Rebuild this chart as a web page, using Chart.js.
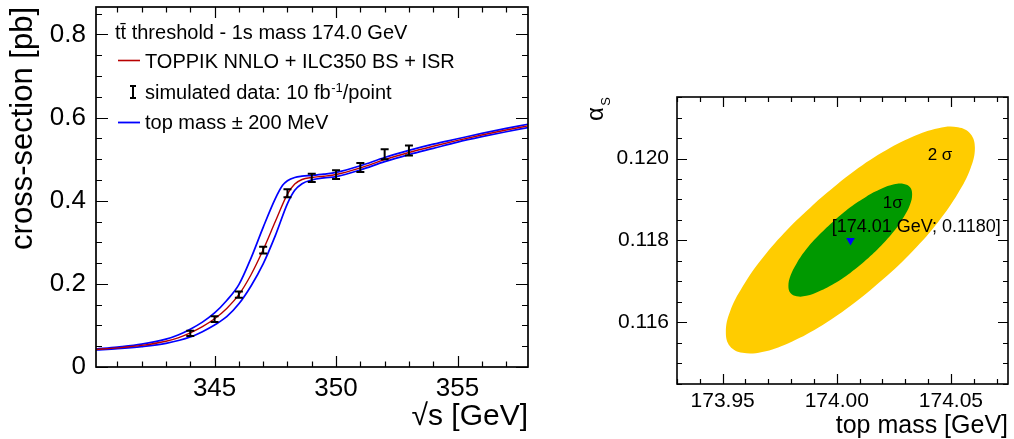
<!DOCTYPE html>
<html>
<head>
<meta charset="utf-8">
<script src="https://cdn.jsdelivr.net/npm/chart.js@4.4.1/dist/chart.umd.min.js"></script>
<style>
html,body{margin:0;padding:0;background:#fff;width:1014px;height:439px;overflow:hidden;}
#c1{position:absolute;left:0;top:0;}
#c2{position:absolute;left:560px;top:0;}
</style>
</head>
<body>
<canvas id="c1" width="540" height="439"></canvas>
<canvas id="c2" width="454" height="439"></canvas>
<script>
// ---------------- left panel: ttbar threshold scan ----------------
const xTickValuesL = [345, 350, 355];
const xTickLabelsL = ['345', '350', '355'];
const yTickValuesL = [0, 0.2, 0.4, 0.6, 0.8];
const yTickLabelsL = ['0', '0.2', '0.4', '0.6', '0.8'];

// nominal prediction (TOPPIK NNLO + ILC350 BS + ISR)
const nominalX = [340.1, 341, 342, 343, 343.5, 344, 344.5, 345, 345.5, 346, 346.5, 347, 347.5, 348, 348.3, 348.6, 349, 349.5, 350, 351, 352, 353, 354, 355, 356, 357, 357.9];
const nominalY = [0.042, 0.046, 0.052, 0.062, 0.070, 0.082, 0.097, 0.116, 0.141, 0.174, 0.222, 0.282, 0.350, 0.416, 0.440, 0.451, 0.456, 0.459, 0.463, 0.479, 0.499, 0.516, 0.531, 0.545, 0.558, 0.570, 0.580];

// top mass - 200 MeV
const lowMassX = [340.1, 341, 342, 343, 343.5, 344, 344.5, 345, 345.5, 346, 346.5, 347, 347.5, 347.8, 348, 348.3, 348.6, 349, 349.5, 350, 351, 352, 353, 354, 355, 356, 357, 357.9];
const lowMassY = [0.043, 0.048, 0.055, 0.067, 0.077, 0.091, 0.108, 0.130, 0.160, 0.198, 0.262, 0.336, 0.405, 0.437, 0.448, 0.456, 0.459, 0.461, 0.464, 0.468, 0.484, 0.504, 0.521, 0.536, 0.549, 0.562, 0.574, 0.584];

// top mass + 200 MeV
const highMassX = [340.1, 341, 342, 343, 344, 344.5, 345, 345.5, 346, 346.5, 347, 347.5, 348, 348.3, 348.6, 349, 349.5, 350, 351, 352, 353, 354, 355, 356, 357, 357.9];
const highMassY = [0.041, 0.044, 0.049, 0.057, 0.072, 0.085, 0.101, 0.121, 0.152, 0.195, 0.248, 0.316, 0.393, 0.425, 0.441, 0.450, 0.455, 0.458, 0.474, 0.494, 0.511, 0.526, 0.541, 0.554, 0.566, 0.576];

// simulated data, 10 fb^-1 per point
const pointsX = [344, 345, 346, 347, 348, 349, 350, 351, 352, 353];
const pointsY = [0.081, 0.115, 0.174, 0.281, 0.418, 0.455, 0.463, 0.480, 0.512, 0.521];
const pointsErr = [0.0065, 0.007, 0.0075, 0.008, 0.0095, 0.010, 0.0105, 0.011, 0.012, 0.012];

// ---------------- right panel: mass / alpha_s fit ----------------
const xTickValuesR = [173.95, 174.00, 174.05];
const xTickLabelsR = ['173.95', '174.00', '174.05'];
const yTickValuesR = [0.116, 0.118, 0.120];
const yTickLabelsR = ['0.116', '0.118', '0.120'];

// 2 sigma contour
const contour2X = [173.9918, 173.9786, 173.9673, 173.9587, 173.9532, 173.9514, 173.9532, 173.9587, 173.9673, 173.9786, 173.9918, 174.0059, 174.0200, 174.0332, 174.0445, 174.0531, 174.0586, 174.0605, 174.0586, 174.0531, 174.0445, 174.0332, 174.0200, 174.0059, 173.9918];
const contour2Y = [0.11898, 0.11828, 0.11756, 0.11687, 0.11626, 0.11576, 0.11542, 0.11526, 0.11528, 0.11549, 0.11587, 0.11640, 0.11704, 0.11774, 0.11846, 0.11915, 0.11976, 0.12026, 0.12060, 0.12076, 0.12074, 0.12053, 0.12015, 0.11962, 0.11898];
// 1 sigma contour
const contour1X = [173.9989, 173.9923, 173.9867, 173.9824, 173.9797, 173.9788, 173.9797, 173.9824, 173.9867, 173.9923, 173.9989, 174.0059, 174.0129, 174.0195, 174.0251, 174.0294, 174.0321, 174.0330, 174.0321, 174.0294, 174.0251, 174.0195, 174.0129, 174.0059, 173.9989];
const contour1Y = [0.11849, 0.11814, 0.11779, 0.11744, 0.11714, 0.11689, 0.11672, 0.11664, 0.11665, 0.11676, 0.11695, 0.11721, 0.11753, 0.11788, 0.11823, 0.11858, 0.11888, 0.11913, 0.11930, 0.11938, 0.11937, 0.11926, 0.11907, 0.11881, 0.11849];
// best fit
const fitX = [174.006];
const fitY = [0.1180];
const fitLabel = '[174.01 GeV; 0.1180]';

// ------------------------------------------------------------------
const FONT = "'Liberation Sans', Arial, Helvetica, sans-serif";
Chart.defaults.font.family = FONT;
Chart.defaults.color = '#000';

const pts = (xs, ys) => xs.map((x, i) => ({x: x, y: ys[i]}));

function stepsOf(min, max, st) {
  const out = [];
  for (let k = Math.ceil(min / st - 1e-9); k * st <= max + 1e-12; k++) out.push(k * st);
  return out;
}
function isMajor(v, m) { const r = v / m; return Math.abs(r - Math.round(r)) < 1e-6; }

function framePlugin(o) {
  return {
    id: 'frame',
    afterDatasetsDraw(chart) {
      const {ctx, chartArea: a, scales: {x, y}} = chart;
      ctx.save();
      ctx.strokeStyle = '#000';
      ctx.lineWidth = o.tickLw;
      ctx.beginPath();
      for (const v of stepsOf(x.min, x.max, o.xMinor)) {
        const L = isMajor(v, o.xMajor) ? o.xMaj : o.xMin;
        const px = Math.round(x.getPixelForValue(v)) + 0.5;
        ctx.moveTo(px, a.bottom); ctx.lineTo(px, a.bottom - L);
        ctx.moveTo(px, a.top); ctx.lineTo(px, a.top + L);
      }
      for (const v of stepsOf(y.min, y.max, o.yMinor)) {
        const L = isMajor(v, o.yMajor) ? o.yMaj : o.yMin;
        const py = Math.round(y.getPixelForValue(v)) + 0.5;
        ctx.moveTo(a.left, py); ctx.lineTo(a.left + L, py);
        ctx.moveTo(a.right, py); ctx.lineTo(a.right - L, py);
      }
      ctx.stroke();
      ctx.lineWidth = o.frameLw;
      ctx.strokeRect(a.left, a.top, a.right - a.left, a.bottom - a.top);
      ctx.restore();
    }
  };
}

const RED = '#b80000';
const BLUE = '#0000ff';

// ---------------- left chart ----------------
const errorBarPlugin = {
  id: 'errbars',
  afterDatasetsDraw(chart) {
    const {ctx, scales: {y}} = chart;
    const meta = chart.getDatasetMeta(0);
    ctx.save();
    ctx.strokeStyle = '#000';
    ctx.lineWidth = 2;
    ctx.beginPath();
    meta.data.forEach((p, i) => {
      const yt = y.getPixelForValue(pointsY[i] + pointsErr[i]);
      const yb = y.getPixelForValue(pointsY[i] - pointsErr[i]);
      ctx.moveTo(p.x, yt); ctx.lineTo(p.x, yb);
      ctx.moveTo(p.x - 4, yt); ctx.lineTo(p.x + 4, yt);
      ctx.moveTo(p.x - 4, yb); ctx.lineTo(p.x + 4, yb);
    });
    ctx.stroke();
    ctx.restore();
  }
};

const legendLeftPlugin = {
  id: 'legendLeft',
  afterDraw(chart) {
    const ctx = chart.ctx;
    ctx.save();
    ctx.fillStyle = '#000';
    ctx.textAlign = 'left';
    ctx.textBaseline = 'alphabetic';
    ctx.font = '20px ' + FONT;
    ctx.fillText('tt\u0304 threshold - 1s mass 174.0 GeV', 115, 39);
    // nominal
    ctx.strokeStyle = RED; ctx.lineWidth = 1.6;
    ctx.beginPath(); ctx.moveTo(118, 60.5); ctx.lineTo(140, 60.5); ctx.stroke();
    ctx.fillText('TOPPIK NNLO + ILC350 BS + ISR', 145, 68);
    // data
    ctx.strokeStyle = '#000'; ctx.lineWidth = 2;
    ctx.beginPath();
    ctx.moveTo(133, 86); ctx.lineTo(133, 98);
    ctx.moveTo(130, 86); ctx.lineTo(136, 86);
    ctx.moveTo(130, 98); ctx.lineTo(136, 98);
    ctx.stroke();
    const t1 = 'simulated data: 10 fb';
    ctx.fillText(t1, 145, 99);
    let w = ctx.measureText(t1).width;
    ctx.font = '13px ' + FONT;
    ctx.fillText('-1', 145 + w + 0.5, 91.5);
    const w2 = ctx.measureText('-1').width;
    ctx.font = '20px ' + FONT;
    ctx.fillText('/point', 145 + w + w2 + 0.5, 99);
    // mass variation
    ctx.strokeStyle = BLUE; ctx.lineWidth = 1.8;
    ctx.beginPath(); ctx.moveTo(118, 122.5); ctx.lineTo(140, 122.5); ctx.stroke();
    ctx.fillText('top mass \u00b1 200 MeV', 145, 129);
    ctx.restore();
  }
};

new Chart(document.getElementById('c1'), {
  type: 'scatter',
  data: {
    datasets: [
      { label: 'simulated data: 10 fb-1/point', data: pts(pointsX, pointsY), pointRadius: 0, pointHoverRadius: 0, order: 0 },
      { type: 'line', label: 'TOPPIK NNLO + ILC350 BS + ISR', data: pts(nominalX, nominalY), borderColor: RED, borderWidth: 1.4, pointRadius: 0, fill: false, cubicInterpolationMode: 'monotone', order: 1 },
      { type: 'line', label: 'top mass - 200 MeV', data: pts(lowMassX, lowMassY), borderColor: BLUE, borderWidth: 1.7, pointRadius: 0, fill: false, cubicInterpolationMode: 'monotone', order: 2 },
      { type: 'line', label: 'top mass + 200 MeV', data: pts(highMassX, highMassY), borderColor: BLUE, borderWidth: 1.7, pointRadius: 0, fill: false, cubicInterpolationMode: 'monotone', order: 3 }
    ]
  },
  options: {
    responsive: false,
    animation: false,
    events: [],
    layout: { padding: { top: 7, right: 12, left: 0, bottom: 0 } },
    plugins: { legend: { display: false }, tooltip: { enabled: false } },
    scales: {
      x: {
        type: 'linear', min: 340.12, max: 357.9,
        afterBuildTicks: s => { s.ticks = xTickValuesL.map(v => ({ value: v })); },
        afterFit: s => { s.height = 72; s.paddingLeft = 0; s.paddingRight = 0; },
        ticks: { callback: (v, i) => xTickLabelsL[i], font: { size: 26 }, color: '#000', padding: 6, maxRotation: 0, autoSkip: false },
        grid: { display: false, drawTicks: false },
        border: { display: false },
        title: { display: true, text: '\u221As [GeV]', align: 'end', color: '#000', font: { size: 30 }, padding: { top: 0, bottom: 4 } }
      },
      y: {
        type: 'linear', min: 0, max: 0.866,
        afterBuildTicks: s => { s.ticks = yTickValuesL.map(v => ({ value: v })); },
        afterFit: s => { s.width = 96; s.paddingTop = 0; s.paddingBottom = 0; },
        ticks: { callback: (v, i) => yTickLabelsL[i], font: { size: 26 }, color: '#000', padding: 10, autoSkip: false },
        grid: { display: false, drawTicks: false },
        border: { display: false },
        title: { display: true, text: 'cross-section [pb]', align: 'end', color: '#000', font: { size: 31 }, padding: { top: 5, bottom: 0 } }
      }
    }
  },
  plugins: [framePlugin({ xMinor: 1, xMajor: 5, yMinor: 0.05, yMajor: 0.2, xMaj: 11, xMin: 5.5, yMaj: 12, yMin: 6, tickLw: 1.2, frameLw: 1.7 }), errorBarPlugin, legendLeftPlugin]
});

// ---------------- right chart ----------------
const labelsRightPlugin = {
  id: 'labelsRight',
  afterDraw(chart) {
    const {ctx, scales: {x, y}} = chart;
    ctx.save();
    ctx.fillStyle = '#000';
    ctx.textBaseline = 'alphabetic';
    ctx.textAlign = 'left';
    // contour labels
    ctx.font = '17px ' + FONT;
    ctx.fillText('2 \u03c3', x.getPixelForValue(174.0398), y.getPixelForValue(0.119963));
    ctx.fillText('1\u03c3', x.getPixelForValue(174.0201), y.getPixelForValue(0.118785));
    // best fit label
    const m = chart.getDatasetMeta(0).data[0];
    ctx.font = '18px ' + FONT;
    ctx.fillText(fitLabel, m.x - 18.8, m.y - 8.4);
    // y-axis title alpha_S
    ctx.translate(43, chart.chartArea.top);
    ctx.rotate(-Math.PI / 2);
    ctx.textAlign = 'right';
    ctx.font = '24px ' + FONT;
    ctx.fillText('\u03b1', -10, 0);
    ctx.font = '13px ' + FONT;
    ctx.fillText('S', 0, 7);
    ctx.restore();
  }
};

new Chart(document.getElementById('c2'), {
  type: 'scatter',
  data: {
    datasets: [
      { label: 'best fit', data: pts(fitX, fitY), pointStyle: 'triangle', rotation: 180, pointRadius: 5, backgroundColor: BLUE, borderWidth: 0, order: 1 },
      { type: 'line', label: '1\u03c3', data: pts(contour1X, contour1Y), fill: 'shape', backgroundColor: '#009900', borderColor: '#009900', borderWidth: 0, pointRadius: 0, tension: 0.4, order: 2 },
      { type: 'line', label: '2\u03c3', data: pts(contour2X, contour2Y), fill: 'shape', backgroundColor: '#ffcc00', borderColor: '#ffcc00', borderWidth: 0, pointRadius: 0, tension: 0.4, order: 3 }
    ]
  },
  options: {
    responsive: false,
    animation: false,
    events: [],
    layout: { padding: { top: 97, right: 6, left: 0, bottom: 0 } },
    plugins: { legend: { display: false }, tooltip: { enabled: false } },
    scales: {
      x: {
        type: 'linear', min: 173.93, max: 174.075,
        afterBuildTicks: s => { s.ticks = xTickValuesR.map(v => ({ value: v })); },
        afterFit: s => { s.height = 55; s.paddingLeft = 0; s.paddingRight = 0; },
        ticks: { callback: (v, i) => xTickLabelsR[i], font: { size: 21 }, color: '#000', padding: 5, maxRotation: 0, autoSkip: false },
        grid: { display: false, drawTicks: false },
        border: { display: false },
        title: { display: true, text: 'top mass [GeV]', align: 'end', color: '#000', font: { size: 25, lineHeight: 1 }, padding: { top: 0, bottom: 0 } }
      },
      y: {
        type: 'linear', min: 0.1145, max: 0.1215,
        afterBuildTicks: s => { s.ticks = yTickValuesR.map(v => ({ value: v })); },
        afterFit: s => { s.width = 117; s.paddingTop = 0; s.paddingBottom = 0; },
        ticks: { callback: (v, i) => yTickLabelsR[i], font: { size: 21 }, color: '#000', padding: 8, autoSkip: false },
        grid: { display: false, drawTicks: false },
        border: { display: false }
      }
    }
  },
  plugins: [framePlugin({ xMinor: 0.01, xMajor: 0.05, yMinor: 0.0005, yMajor: 0.002, xMaj: 10, xMin: 5, yMaj: 10, yMin: 5, tickLw: 1.2, frameLw: 1.6 }), labelsRightPlugin]
});
</script>
</body>
</html>
